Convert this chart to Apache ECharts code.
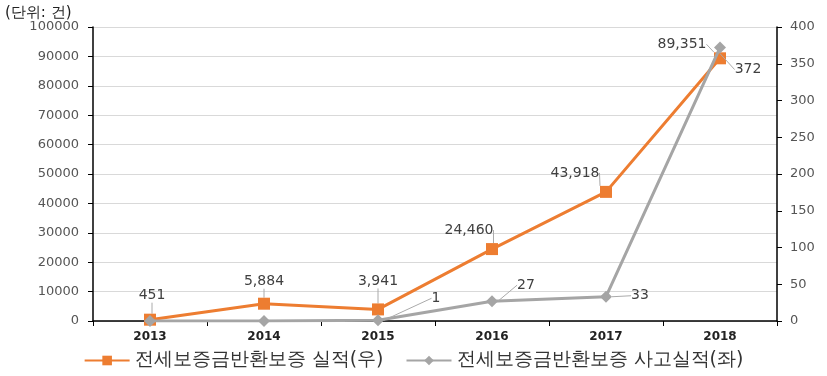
<!DOCTYPE html>
<html>
<head>
<meta charset="utf-8">
<script src="https://cdn.jsdelivr.net/npm/echarts@6/dist/echarts.min.js"></script>
<style>
  html, body { margin: 0; padding: 0; background: #fff; }
  #chart { width: 827px; height: 376px; }
</style>
</head>
<body>
<div id="chart"></div>
<script>
const years = ["2013", "2014", "2015", "2016", "2017", "2018"];
const guarantee = [451, 5884, 3941, 24460, 43918, 89351];
const accidents = [0, 0, 1, 27, 33, 372];
const labelShown = [false, false, true, true, true, true];

// label offsets from each point (leader lines are drawn back to the marker)
const orangeShift = [[2, -24], [0, -22], [0, -28], [-23, -19], [-31, -19], [-38, -14]];
const grayShift = [[0, 0], [0, 0], [58, -22], [34, -16], [34, -1], [28, 22]];

const font = "DejaVu Sans";
const chart = echarts.init(document.getElementById("chart"));

chart.setOption({
  animation: false,
  textStyle: { fontFamily: font },
  title: {
    text: "(단위: 건)",
    left: 0, top: 1,
    textStyle: { fontSize: 15, fontWeight: "normal", color: "#222", fontFamily: font }
  },
  grid: { left: 93, right: 50, top: 27, bottom: 55 },
  legend: {
    bottom: 1,
    left: "center",
    itemWidth: 45, itemHeight: 12, itemGap: 22,
    textStyle: { fontSize: 19, color: "#333" },
    data: ["전세보증금반환보증 실적(우)", "전세보증금반환보증 사고실적(좌)"]
  },
  xAxis: {
    type: "category",
    data: years,
    axisLine: { lineStyle: { color: "#000", width: 1.5 } },
    axisTick: { show: true, length: 5, lineStyle: { color: "#000" } },
    axisLabel: { fontSize: 12, fontWeight: "bold", color: "#222", margin: 10 }
  },
  yAxis: [
    {
      type: "value", min: 0, max: 100000, interval: 10000,
      axisLine: { show: true, lineStyle: { color: "#000", width: 1.5 } },
      axisTick: { show: true, length: 5, lineStyle: { color: "#000" } },
      axisLabel: { fontSize: 13, color: "#555", margin: 14, formatter: v => String(v) },
      splitLine: { lineStyle: { color: "#d9d9d9" } }
    },
    {
      type: "value", min: 0, max: 400, interval: 50,
      axisLine: { show: true, lineStyle: { color: "#000", width: 1.5 } },
      axisTick: { show: true, length: 5, lineStyle: { color: "#000" } },
      axisLabel: { fontSize: 13, color: "#555", margin: 13 },
      splitLine: { show: false }
    }
  ],
  series: [
    {
      name: "전세보증금반환보증 실적(우)",
      type: "line",
      yAxisIndex: 0,
      data: guarantee,
      z: 3,
      symbol: "rect",
      symbolSize: 12,
      color: "#ED7D31",
      lineStyle: { width: 3, color: "#ED7D31" },
      itemStyle: { color: "#ED7D31" },
      label: {
        show: true, position: "inside", fontSize: 14, color: "#404040",
        formatter: p => p.value.toLocaleString("en-US")
      },
      labelLine: { show: true, lineStyle: { color: "#aaa", width: 1 } },
      labelLayout: p => ({ dx: orangeShift[p.dataIndex][0], dy: orangeShift[p.dataIndex][1] })
    },
    {
      name: "전세보증금반환보증 사고실적(좌)",
      type: "line",
      yAxisIndex: 1,
      data: accidents,
      z: 4,
      symbol: "diamond",
      symbolSize: 12,
      color: "#A5A5A5",
      lineStyle: { width: 3, color: "#A5A5A5" },
      itemStyle: { color: "#A5A5A5" },
      label: {
        show: true, position: "inside", fontSize: 14, color: "#404040",
        formatter: p => labelShown[p.dataIndex] ? String(p.value) : ""
      },
      labelLine: { show: true, lineStyle: { color: "#aaa", width: 1 } },
      labelLayout: p => ({ dx: grayShift[p.dataIndex][0], dy: grayShift[p.dataIndex][1] })
    }
  ]
});
</script>
</body>
</html>
